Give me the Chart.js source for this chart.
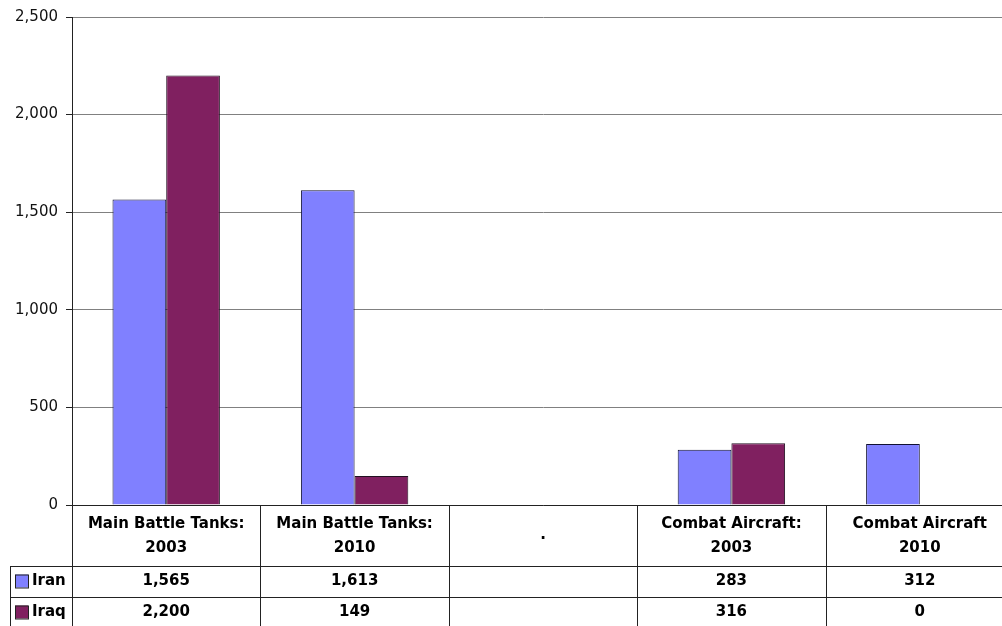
<!DOCTYPE html>
<html>
<head>
<meta charset="utf-8">
<script src="https://cdn.jsdelivr.net/npm/chart.js@4"></script>
<style>
  html, body { margin: 0; padding: 0; background: #fff; overflow: hidden; }
  canvas { display: block; }
</style>
</head>
<body>
<canvas id="chart" width="1014" height="626"></canvas>
<script>
// Iran vs Iraq: tanks and combat aircraft, 2003 / 2010

const categories = [
  ['Main Battle Tanks:', '2003'],
  ['Main Battle Tanks:', '2010'],
  ['.'],
  ['Combat Aircraft:', '2003'],
  ['Combat Aircraft', '2010'],
]
const seriesNames = ['Iran', 'Iraq']
const iranValues = [1565, 1613, null, 283, 312]
const iraqValues = [2200, 149, null, 316, 0]
const yTicks = [0, 500, 1000, 1500, 2000, 2500]

const COLORS = {
  iran: '#8080ff',
  iraq: '#802060',
  grid: '#808080',
  line: '#222222',
  text: '#000000',
}

const fmt = (v) => v == null ? '' : v.toLocaleString('en-US')

// data table drawn under the x axis, columns follow the category scale
const dataTable = {
  id: 'dataTable',
  afterDraw(chart) {
    const { ctx, chartArea, scales } = chart
    const x = scales.x
    const top = chartArea.bottom
    const headerH = 61
    const rowH = 31
    const bottom = chart.height
    const colW = x.getPixelForValue(1) - x.getPixelForValue(0)
    const tableLeft = 10

    ctx.save()
    ctx.strokeStyle = COLORS.line
    ctx.lineWidth = 1

    // vertical column lines
    for (let i = 0; i <= categories.length; i++) {
      const px = Math.round(x.getPixelForValue(i) - colW / 2) + 0.5
      ctx.beginPath()
      ctx.moveTo(px, top)
      ctx.lineTo(px, bottom)
      ctx.stroke()
    }
    // left border of the legend column
    ctx.beginPath()
    ctx.moveTo(tableLeft + 0.5, top + headerH)
    ctx.lineTo(tableLeft + 0.5, bottom)
    ctx.stroke()
    // row lines
    for (let r = 0; r < 2; r++) {
      const py = top + headerH + r * rowH + 0.5
      ctx.beginPath()
      ctx.moveTo(tableLeft, py)
      ctx.lineTo(chart.width, py)
      ctx.stroke()
    }

    ctx.fillStyle = COLORS.text
    ctx.textAlign = 'center'
    ctx.textBaseline = 'middle'
    ctx.font = 'bold 15px "DejaVu Sans", sans-serif'

    // header
    categories.forEach((lines, i) => {
      const cx = x.getPixelForValue(i)
      if (lines.length === 1) {
        ctx.fillText(lines[0], cx, top + 30)
      } else {
        lines.forEach((t, k) => ctx.fillText(t, cx, top + 19 + k * 24))
      }
    })

    // value rows
    const rows = [iranValues, iraqValues]
    const rowColors = [COLORS.iran, COLORS.iraq]
    rows.forEach((vals, r) => {
      const cy = top + headerH + r * rowH + rowH / 2
      vals.forEach((v, i) => {
        ctx.fillText(fmt(v), x.getPixelForValue(i), cy)
      })
      // legend key
      ctx.fillStyle = rowColors[r]
      ctx.fillRect(15, cy - 7, 13, 13)
      ctx.strokeRect(15.5, cy - 6.5, 13, 13)
      ctx.fillStyle = COLORS.text
      ctx.textAlign = 'left'
      ctx.fillText(seriesNames[r], 32, cy)
      ctx.textAlign = 'center'
    })
    ctx.restore()
  }
}

new Chart(document.getElementById('chart'), {
  type: 'bar',
  data: {
    labels: categories,
    datasets: [
      {
        label: seriesNames[0],
        data: iranValues,
        backgroundColor: COLORS.iran,
        borderColor: '#111133',
        borderWidth: 1,
      },
      {
        label: seriesNames[1],
        data: iraqValues,
        backgroundColor: COLORS.iraq,
        borderColor: '#221122',
        borderWidth: 1,
      }
    ]
  },
  options: {
    responsive: false,
    animation: false,
    devicePixelRatio: 1,
    layout: { padding: { top: 16, bottom: 121, left: 0, right: 0 } },
    datasets: {
      bar: { categoryPercentage: 0.57, barPercentage: 1 }
    },
    scales: {
      x: {
        grid: { display: false },
        ticks: { display: false },
        border: { display: true, color: COLORS.line },
        afterFit: (axis) => { axis.height = 0 },
      },
      y: {
        min: 0,
        max: 2500,
        afterBuildTicks: (axis) => { axis.ticks = yTicks.map(v => ({ value: v })) },
        afterFit: (axis) => { axis.width = 72 },
        grid: { color: COLORS.grid, tickLength: 6, tickColor: COLORS.line },
        border: { display: true, color: COLORS.line },
        ticks: {
          padding: 8,
          color: '#111',
          font: { family: '"DejaVu Sans", sans-serif', size: 15 },
          callback: (v) => v.toLocaleString('en-US'),
        }
      }
    },
    plugins: {
      legend: { display: false },
      tooltip: { enabled: false },
    }
  },
  plugins: [dataTable]
})
</script>
</body>
</html>
